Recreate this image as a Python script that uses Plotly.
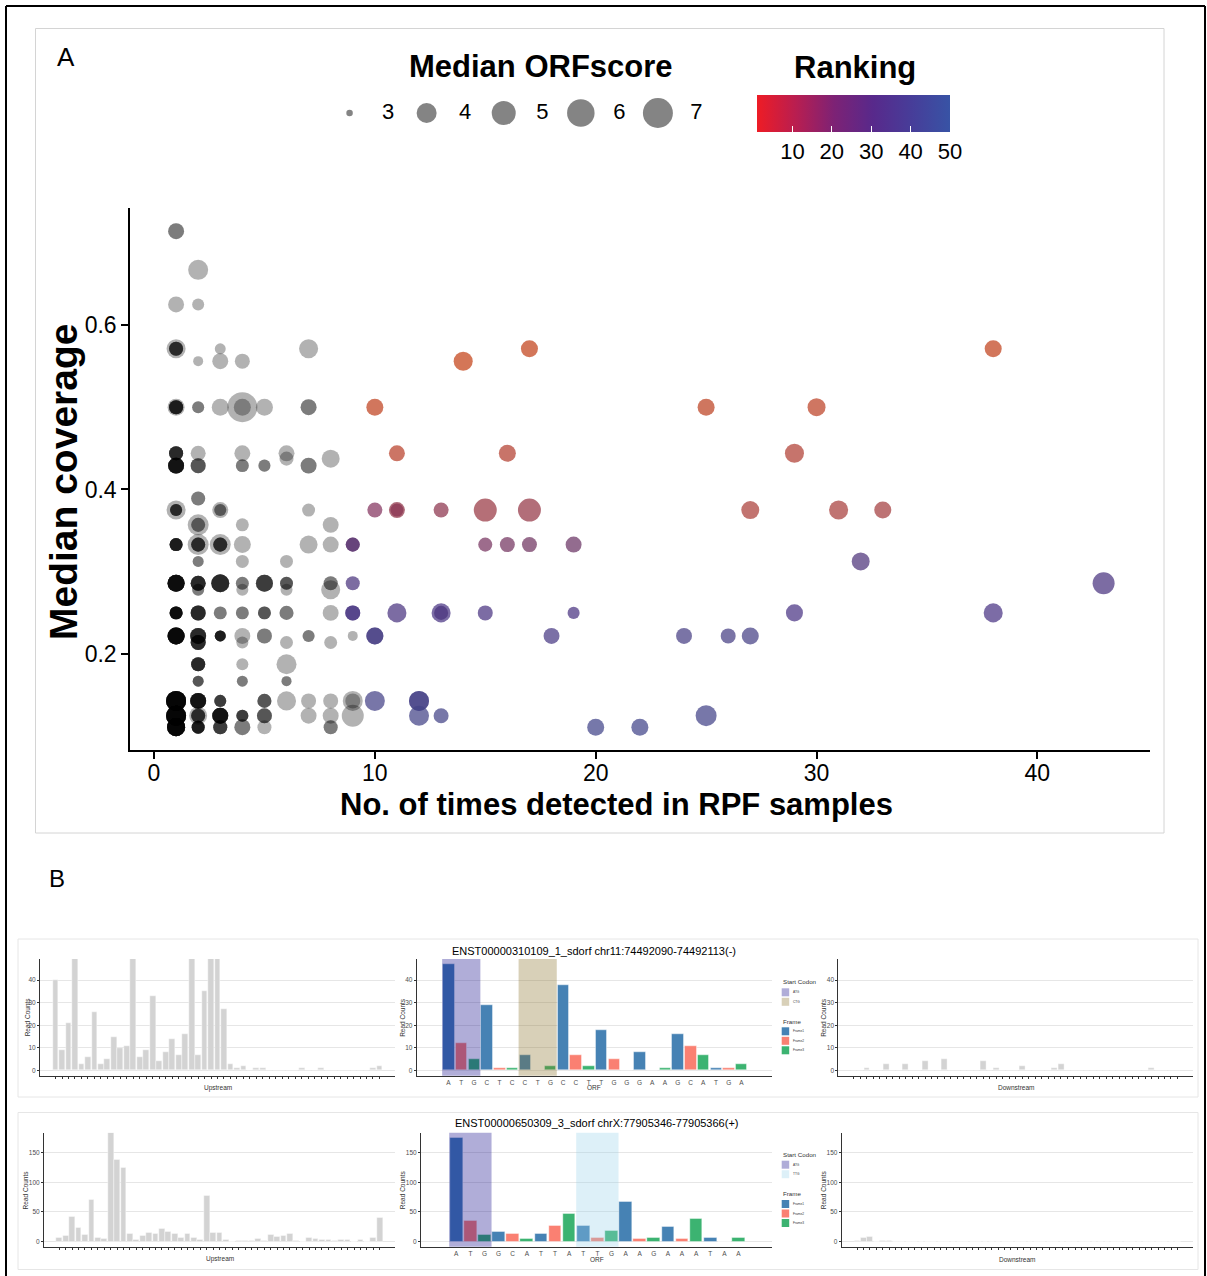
import numpy as np
import plotly.graph_objects as go

W, H = 1207, 1276


def PX(x):
    return x / W


def PY(y):
    return 1 - y / H


# ---------------- Panel A data ----------------
gray_x = [1, 2, 1, 2, 1, 1, 2, 3, 3, 4, 7, 1, 1, 2, 3, 4, 4, 5, 7,
          1, 1, 2, 2, 4, 4, 5, 6, 6, 7, 8, 2, 1, 1, 3, 3, 7, 2, 2, 4, 8,
          1, 2, 2, 3, 3, 4, 7, 8, 2, 4, 6, 1, 2, 3, 4, 5, 6, 8, 2, 4, 6, 8,
          1, 2, 3, 4, 5, 6, 8, 1, 2, 2, 3, 4, 4, 5, 6, 7, 8, 9, 2, 4, 6,
          2, 4, 6, 1, 2, 3, 5, 6, 7, 8, 9, 9, 1, 2, 2, 3, 4, 5, 7, 8, 9,
          1, 2, 3, 4, 5, 8]
gray_y = [0.714, 0.667, 0.625, 0.625, 0.571, 0.571, 0.556, 0.571, 0.556, 0.556, 0.571,
          0.5, 0.5, 0.5, 0.5, 0.5, 0.5, 0.5, 0.5,
          0.444, 0.429, 0.444, 0.429, 0.444, 0.429, 0.429, 0.444, 0.4375, 0.429, 0.4375,
          0.389, 0.375, 0.375, 0.375, 0.375, 0.375, 0.357, 0.357, 0.357, 0.357,
          0.333, 0.333, 0.333, 0.333, 0.333, 0.333, 0.333, 0.333,
          0.3125, 0.3125, 0.3125,
          0.286, 0.286, 0.286, 0.286, 0.286, 0.286, 0.286,
          0.278, 0.278, 0.278, 0.278,
          0.25, 0.25, 0.25, 0.25, 0.25, 0.25, 0.25,
          0.222, 0.222, 0.214, 0.222, 0.222, 0.214, 0.222, 0.214, 0.222, 0.214, 0.222,
          0.1875, 0.1875, 0.1875, 0.167, 0.167, 0.167,
          0.143, 0.143, 0.143, 0.143, 0.143, 0.143, 0.143, 0.143, 0.143,
          0.125, 0.125, 0.125, 0.125, 0.125, 0.125, 0.125, 0.125, 0.125,
          0.111, 0.111, 0.111, 0.111, 0.111, 0.111]
gray_score = [3.70, 4.00, 3.70, 3.41, 3.93, 3.56, 3.26, 3.33, 3.70, 3.63, 3.93,
              3.78, 3.56, 3.41, 3.78, 7.00, 3.78, 3.78, 3.70,
              3.56, 3.70, 3.63, 3.63, 3.70, 3.48, 3.41, 3.70, 3.56, 3.70, 3.85,
              3.56, 3.93, 3.41, 3.70, 3.41, 3.48, 4.25, 3.56, 3.48, 3.70,
              3.48, 4.25, 3.56, 4.25, 3.56, 3.78, 3.85, 3.70,
              3.33, 3.48, 3.48,
              3.78, 3.63, 3.85, 3.48, 3.78, 3.48, 3.56,
              3.41, 3.41, 3.41, 3.93,
              3.48, 3.63, 3.48, 3.48, 3.48, 3.56, 3.70,
              3.78, 3.70, 3.63, 3.33, 3.70, 3.41, 3.63, 3.48, 3.41, 3.48, 3.26,
              3.56, 3.41, 4.00, 3.33, 3.33, 3.26,
              4.00, 3.70, 3.41, 3.56, 3.93, 3.63, 3.63, 4.00, 3.63,
              4.00, 3.85, 3.56, 3.70, 3.41, 3.63, 3.70, 3.70, 4.50,
              3.85, 3.48, 3.56, 3.70, 3.56, 3.56]
gray_n = [2, 1, 1, 1, 1, 4, 1, 1, 1, 1, 1,
          1, 5, 2, 1, 1, 1, 1, 2,
          5, 7, 1, 3, 1, 2, 2, 1, 1, 2, 1,
          2, 1, 4, 1, 2, 1, 1, 2, 1, 1,
          6, 1, 4, 1, 4, 1, 1, 1,
          2, 1, 1,
          8, 5, 5, 2, 4, 3, 2,
          2, 1, 1, 1,
          8, 5, 2, 2, 3, 2, 1,
          9, 5, 5, 6, 1, 1, 2, 1, 2, 1, 1,
          5, 1, 1, 3, 2, 2,
          10, 7, 4, 3, 1, 1, 1, 1, 1,
          10, 1, 4, 7, 4, 3, 1, 1, 1,
          10, 6, 4, 2, 1, 2]

col_x = [14, 17, 38, 10, 25, 30, 11, 16, 29, 27, 31, 33, 15, 17, 11, 13, 11, 10,
         15, 16, 17, 19, 9, 9, 32, 9, 43, 11, 15, 19, 29, 38, 13, 13, 9, 9,
         10, 10, 18, 24, 26, 27, 10, 12, 12, 12, 13, 25, 20, 22]
col_y = [0.556, 0.571, 0.571, 0.5, 0.5, 0.5, 0.444, 0.444, 0.444,
         0.375, 0.375, 0.375, 0.375, 0.375, 0.375, 0.375, 0.375, 0.375,
         0.333, 0.333, 0.333, 0.333, 0.333, 0.333, 0.3125, 0.286, 0.286,
         0.25, 0.25, 0.25, 0.25, 0.25, 0.25, 0.25, 0.25, 0.25,
         0.222, 0.222, 0.222, 0.222, 0.222, 0.222,
         0.143, 0.143, 0.143, 0.125, 0.125, 0.125, 0.111, 0.111]
col_score = [3.93, 3.78, 3.78, 3.78, 3.78, 3.85, 3.70, 3.78, 3.93,
             3.85, 3.93, 3.78, 4.75, 4.75, 3.70, 3.63, 3.48, 3.63,
             3.56, 3.63, 3.63, 3.70, 3.56, 3.56, 3.85, 3.56, 4.50,
             3.93, 3.63, 3.41, 3.78, 3.93, 3.93, 3.56, 3.63, 3.63,
             3.78, 3.78, 3.70, 3.70, 3.63, 3.78,
             4.00, 4.00, 4.00, 4.00, 3.63, 4.25, 3.78, 3.78]
col_rank = [1, 2, 3, 4, 5, 6, 7, 8, 9,
            11, 12, 13, 15, 16, 17, 18, 19, 21,
            24, 25, 26, 27, 28, 31, 33, 34, 35,
            36, 37, 37, 38, 38, 39, 34, 36, 40,
            42, 44, 41, 43, 44, 45,
            46, 45, 47, 48, 48, 49, 50, 50]

size_legend_scores = [3, 4, 5, 6, 7]
x_ticks_A = [0, 10, 20, 30, 40]
y_ticks_A = [0.2, 0.4, 0.6]
rank_ticks = [10, 20, 30, 40, 50]
rank_min, rank_max = 1, 50

# ---------------- Panel B data ----------------
up1 = [40, 9, 21, 60, 3, 6, 26, 3, 5, 15, 10, 11, 55, 6, 9, 33, 4, 8, 14, 7, 16, 52, 7,
       35, 58, 62, 27, 3, 1, 2, 0, 1, 1, 0, 0, 0, 0, 0, 1, 0, 0, 1, 0, 0, 0, 0, 0, 0, 0, 1, 2]
orf1_seq = list("ATGCTCCTGCCTTGGGAAGCATGA")
orf1 = [47, 12, 5, 29, 1, 1, 7, 0, 2, 38, 7, 2, 18, 5, 0, 8, 0, 1, 16, 11, 7, 1, 1, 3]
down1 = [0, 0, 1, 0, 0, 3, 0, 0, 3, 0, 0, 4, 0, 0, 5, 0, 0, 0, 0, 0, 4, 0, 1, 0, 0, 0,
         2, 0, 0, 0, 0, 1, 3, 0, 0, 0, 0, 0, 0, 0, 0, 0, 0, 0, 0, 0, 1, 0, 0, 0, 0]
codon1_names = ["ATG", "CTG"]
codon1_start = [0, 6]
title1 = "ENST00000310109_1_sdorf chr11:74492090-74492113(-)"
yticks1 = [0, 10, 20, 30, 40]

up2 = [6, 10, 42, 23, 12, 70, 7, 5, 183, 138, 125, 14, 3, 9, 15, 13, 22, 17, 13, 6, 13, 7,
       3, 78, 15, 15, 3, 0, 1, 1, 2, 5, 1, 11, 8, 9, 14, 1, 0, 6, 5, 3, 3, 1, 3, 3, 0, 3, 0, 7, 40]
orf2_seq = list("ATGGCATTATTGAAGAAATAA")
orf2 = [175, 36, 12, 17, 13, 4, 13, 26, 47, 27, 6, 18, 67, 5, 7, 25, 5, 38, 6, 0, 6]
down2 = [1, 6, 8, 0, 1, 1] + [0] * 45
codon2_names = ["ATG", "TTG"]
codon2_start = [0, 9]
title2 = "ENST00000650309_3_sdorf chrX:77905346-77905366(+)"
yticks2 = [0, 50, 100, 150]

frame_names = ["Frame1", "Frame2", "Frame3"]

# ---------------- styles ----------------
FA = "Liberation Sans"
FRAME_COLORS = ["#4682B4", "#FA8072", "#3CB371"]
CODON_COLORS = {"ATG": "rgb(8,0,133)", "CTG": "rgb(133,108,33)", "TTG": "rgb(149,208,233)"}
CODON_ALPHA = 0.32
SCORE_KNOTS = [3, 4, 5, 6, 7]
DIAM_KNOTS = [6.5, 20, 24, 27.5, 30]


def diam(s):
    return np.interp(np.asarray(s, dtype=float), SCORE_KNOTS, DIAM_KNOTS)


POINT_SCALE = [[0.0, "#C44116"], [0.10, "#BC4124"], [0.16, "#B03E33"], [0.24, "#A53E3E"],
               [0.33, "#8E3347"], [0.41, "#83335F"], [0.51, "#6F3360"], [0.67, "#4A337D"],
               [0.76, "#4A3383"], [0.86, "#473E83"], [1.0, "#414489"]]
BAR_SCALE = [[0.0, "#EE1C25"], [0.2, "#B91E50"], [0.4, "#7D2275"], [0.6, "#58298B"],
             [0.8, "#473D99"], [1.0, "#3853A5"]]

CB_LEFT, CB_LEN, CB_TOP, CB_THICK = 757, 193, 95, 37


def ann(text, x, y, size, color="black", angle=0, xanchor="center", family=FA):
    return dict(text=text, xref="paper", yref="paper", x=PX(x), y=PY(y), showarrow=False,
                xanchor=xanchor, yanchor="middle", textangle=angle,
                font=dict(family=family, size=size, color=color))


fig = go.Figure()

# ---- Panel A scatter ----
gx = np.repeat(gray_x, gray_n)
gy = np.repeat(gray_y, gray_n)
gs = np.repeat(gray_score, gray_n)
fig.add_trace(go.Scatter(x=gx, y=gy, mode="markers", xaxis="x", yaxis="y",
                         marker=dict(size=diam(gs), color="black", opacity=0.3,
                                     line=dict(width=0)),
                         hoverinfo="skip"))
fig.add_trace(go.Scatter(x=col_x, y=col_y, mode="markers", xaxis="x", yaxis="y",
                         marker=dict(size=diam(col_score), color=col_rank, colorscale=POINT_SCALE,
                                     cmin=rank_min, cmax=rank_max, opacity=0.72,
                                     line=dict(width=0)),
                         hoverinfo="skip"))

# ---- size legend ----
idx = list(range(len(size_legend_scores)))
fig.add_trace(go.Scatter(x=idx, y=[0] * len(idx), mode="markers", xaxis="x2", yaxis="y2",
                         marker=dict(size=diam(size_legend_scores), color="#505050",
                                     line=dict(width=0)), hoverinfo="skip"))
fig.add_trace(go.Scatter(x=[i + 0.5 for i in idx], y=[0] * len(idx), mode="text",
                         text=[str(s) for s in size_legend_scores], xaxis="x2", yaxis="y2",
                         textfont=dict(family=FA, size=22, color="black"), hoverinfo="skip"))

# ---- colourbar (Ranking) ----
fig.add_trace(go.Scatter(x=[0], y=[100], mode="markers", xaxis="x2", yaxis="y2",
                         marker=dict(color=[rank_min], colorscale=BAR_SCALE, cmin=rank_min,
                                     cmax=rank_max, size=1, showscale=True,
                                     colorbar=dict(orientation="h",
                                                   x=PX(CB_LEFT + CB_LEN / 2), xanchor="center",
                                                   y=PY(CB_TOP), yanchor="top", len=CB_LEN,
                                                   lenmode="pixels", thickness=CB_THICK,
                                                   thicknessmode="pixels", outlinewidth=0,
                                                   xpad=0, ypad=0, tickvals=rank_ticks,
                                                   ticks="inside", ticklen=6, tickcolor="white",
                                                   tickwidth=1.2,
                                                   tickfont=dict(family=FA, size=22, color="black"))),
                         hoverinfo="skip", showlegend=False))

layout = dict(
    width=W, height=H, margin=dict(l=0, r=0, t=0, b=0),
    paper_bgcolor="white", plot_bgcolor="white", showlegend=False,
    xaxis=dict(domain=[PX(130), PX(1150)], range=[-1.087, 45.1], anchor="y",
               tickvals=x_ticks_A, showgrid=False, zeroline=False, showline=True,
               linecolor="black", linewidth=1.5, ticks="outside", ticklen=7, tickwidth=1.5,
               tickcolor="black", tickfont=dict(family=FA, size=23, color="black"),
               ticklabelstandoff=-5, automargin=False),
    yaxis=dict(domain=[PY(750), PY(208)], range=[0.0833, 0.7422], anchor="x",
               tickvals=y_ticks_A, ticktext=["%.1f" % v for v in y_ticks_A], showgrid=False,
               zeroline=False, showline=True, linecolor="black", linewidth=1.5,
               ticks="outside", ticklen=7, tickwidth=1.5, tickcolor="black",
               tickfont=dict(family=FA, size=23, color="black"), automargin=False),
    xaxis2=dict(domain=[PX(311), PX(735)], range=[-0.5, 5.0], anchor="y2", visible=False),
    yaxis2=dict(domain=[PY(133), PY(93)], range=[-1, 1], anchor="x2", visible=False),
)

shapes = []
annotations = []

# outer frame + panel boxes
shapes += [
    dict(type="line", xref="paper", yref="paper", x0=PX(6), x1=PX(6), y0=PY(6), y1=PY(1290),
         line=dict(color="black", width=2)),
    dict(type="line", xref="paper", yref="paper", x0=PX(6), x1=PX(1205), y0=PY(6), y1=PY(6),
         line=dict(color="black", width=2)),
    dict(type="line", xref="paper", yref="paper", x0=PX(1205), x1=PX(1205), y0=PY(6), y1=PY(1290),
         line=dict(color="black", width=2)),
    dict(type="rect", xref="paper", yref="paper", x0=PX(35.5), x1=PX(1164), y0=PY(28.5),
         y1=PY(833), line=dict(color="#D4D4D4", width=1)),
    dict(type="rect", xref="paper", yref="paper", x0=PX(18), x1=PX(1198), y0=PY(939),
         y1=PY(1097), line=dict(color="#E6E6E6", width=1)),
    dict(type="rect", xref="paper", yref="paper", x0=PX(18), x1=PX(1198), y0=PY(1112.5),
         y1=PY(1269.5), line=dict(color="#E6E6E6", width=1)),
]
# white colourbar ticks on the top edge too (ggplot colourbar style)
for v in rank_ticks:
    xp = CB_LEFT + (v - rank_min) / (rank_max - rank_min) * CB_LEN
    shapes.append(dict(type="line", xref="paper", yref="paper", x0=PX(xp), x1=PX(xp),
                       y0=PY(CB_TOP), y1=PY(CB_TOP + 6), line=dict(color="white", width=1.2)))

annotations += [
    ann("A", 65.5, 57, 26),
    ann("B", 57, 878, 24),
    ann("<b>Median ORFscore</b>", 541, 67, 31),
    ann("<b>Ranking</b>", 855, 68, 31),
    ann("<b>No. of times detected in RPF samples</b>", 616, 804, 31),
    ann("<b>Median coverage</b>", 64, 482, 39, angle=-90),
]

# ---- Panel B ----
rows = [
    dict(up=up1, orf=orf1, seq=orf1_seq, down=down1, cn=codon1_names, cs=codon1_start,
         title=title1, yt=yticks1,
         px=dict(up=(40, 395), orf=(416.7, 772), down=(838.3, 1193), y=(959, 1075.7)),
         title_y=950.7, xt_y=1087.5, leg_y=981.7, cod_top=988.3, frame_title_y=1021,
         frame_top=1027.3, yt_x=dict(up=27, orf=402.5, down=823.5)),
    dict(up=up2, orf=orf2, seq=orf2_seq, down=down2, cn=codon2_names, cs=codon2_start,
         title=title2, yt=yticks2,
         px=dict(up=(44, 395), orf=(421, 772.3), down=(841.7, 1193), y=(1132.7, 1246.7)),
         title_y=1123.3, xt_y=1259.3, leg_y=1154.3, cod_top=1160.7, frame_title_y=1193.3,
         frame_top=1200, yt_x=dict(up=25.7, orf=402.5, down=823.5)),
]

GRID = "#E6E6E6"
AXC = "#333333"
TICKC = "#4D4D4D"
KEY_PITCH = 9.5
ax_id = 3
for r in rows:
    ymax = max(r["orf"]) * 1.05
    yrange = [-max(r["orf"]) * 0.05, ymax]
    y0p, y1p = r["px"]["y"]
    ydom = [PY(y1p), PY(y0p)]
    for part, xt in (("up", "Upstream"), ("orf", "ORF"), ("down", "Downstream")):
        xa = "x%d" % ax_id
        ya = "y%d" % ax_id
        vals = r[part]
        xs = list(range(len(vals)))
        if part == "orf":
            colors = [FRAME_COLORS[i % 3] for i in xs]
            xrange = [-2.5, len(vals) + 1.4]
            xkw = dict(tickvals=xs, ticktext=r["seq"], ticks="", showticklabels=True,
                       tickfont=dict(family=FA, size=6.5, color=TICKC))
        else:
            colors = ["#D3D3D3"] * len(vals)
            xrange = [-2.4, 52.4]
            xkw = dict(tickvals=xs, ticks="outside", ticklen=2, tickwidth=0.7,
                       tickcolor=AXC, showticklabels=False)
        fig.add_trace(go.Bar(x=xs, y=vals, xaxis=xa, yaxis=ya, width=0.9,
                             marker=dict(color=colors, line=dict(color="white", width=0.4)),
                             hoverinfo="skip"))
        x0p, x1p = r["px"][part]
        layout["xaxis%d" % ax_id] = dict(domain=[PX(x0p), PX(x1p)], range=xrange,
                                         anchor=ya, showgrid=False, zeroline=False,
                                         showline=True, linecolor=AXC, linewidth=1,
                                         automargin=False, **xkw)
        layout["yaxis%d" % ax_id] = dict(domain=ydom, range=yrange, anchor=xa,
                                         tickvals=r["yt"], showgrid=True, gridcolor=GRID,
                                         gridwidth=1, zeroline=False, showline=True,
                                         linecolor=AXC, linewidth=1, ticks="outside",
                                         ticklen=2, tickwidth=0.7, tickcolor=AXC,
                                         tickfont=dict(family=FA, size=6.5, color=TICKC),
                                         automargin=False)
        annotations.append(ann(xt, (x0p + x1p) / 2, r["xt_y"], 6.5, color="#333333"))
        annotations.append(ann("Read Counts", r["yt_x"][part], (y0p + y1p) / 2, 6.5,
                               color="#333333", angle=-90))
        if part == "orf":
            for name, st in zip(r["cn"], r["cs"]):
                shapes.append(dict(type="rect", xref=xa, yref=ya + " domain", x0=st - 0.5,
                                   x1=st + 2.5, y0=0, y1=1, fillcolor=CODON_COLORS[name],
                                   opacity=CODON_ALPHA, line=dict(width=0), layer="above"))
            annotations.append(ann(r["title"], (x0p + x1p) / 2, r["title_y"], 11))
            # legend
            lx = 781.7
            annotations.append(ann("Start Codon", 780.5, r["leg_y"], 6.2, color="#333333",
                                   xanchor="left"))
            for k, name in enumerate(r["cn"]):
                top = r["cod_top"] + k * KEY_PITCH
                shapes.append(dict(type="rect", xref="paper", yref="paper", x0=PX(lx),
                                   x1=PX(lx + 7.5), y0=PY(top + 8), y1=PY(top),
                                   fillcolor=CODON_COLORS[name], opacity=CODON_ALPHA,
                                   line=dict(width=0)))
                annotations.append(ann(name, lx + 9.5, top + 4, 3.2, color="#333333",
                                       xanchor="left"))
            annotations.append(ann("Frame", 780.5, r["frame_title_y"], 6.2, color="#333333",
                                   xanchor="left"))
            for k, name in enumerate(frame_names):
                top = r["frame_top"] + k * KEY_PITCH
                shapes.append(dict(type="rect", xref="paper", yref="paper", x0=PX(lx),
                                   x1=PX(lx + 7.5), y0=PY(top + 8), y1=PY(top),
                                   fillcolor=FRAME_COLORS[k], line=dict(width=0)))
                annotations.append(ann(name, lx + 9.5, top + 4, 3.2, color="#333333",
                                       xanchor="left"))
        ax_id += 1

layout["shapes"] = shapes
layout["annotations"] = annotations
layout["bargap"] = 0
fig.update_layout(**layout)
fig.write_html("out.html", config={"displayModeBar": False},
               post_script="document.body.style.margin='0px';document.body.style.padding='0px';"
                           "document.body.style.overflow='hidden';")
